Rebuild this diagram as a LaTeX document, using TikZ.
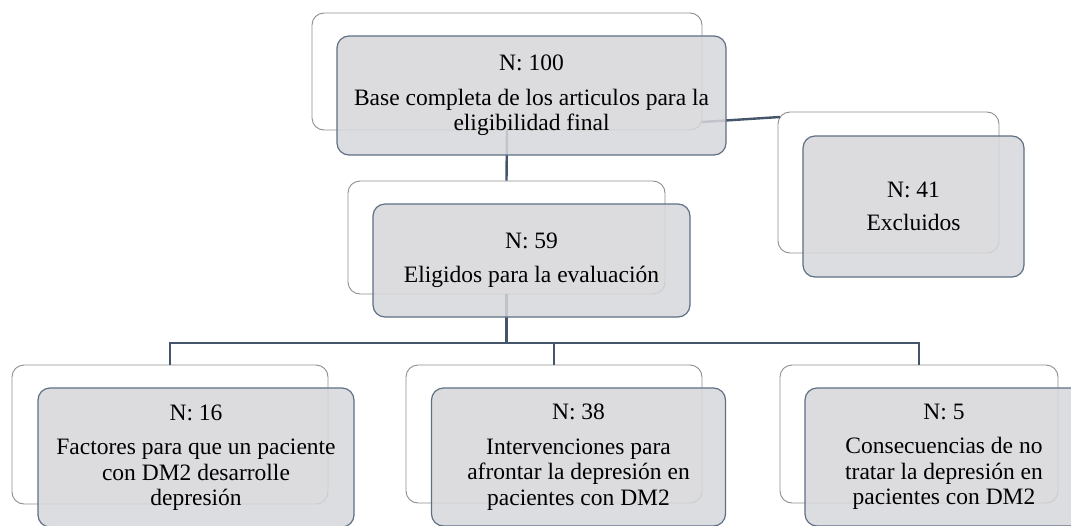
\documentclass[tikz,border=0pt]{standalone}
\usepackage{fontspec}
\setmainfont{Liberation Serif}
\usetikzlibrary{positioning}

\definecolor{Link}{HTML}{44546A}
\definecolor{Edge}{HTML}{5F6F85}
\definecolor{Shade}{HTML}{D6D7DA}
\definecolor{Back}{HTML}{8E8E8E}

\tikzset{
  backbox/.style={rectangle, rounded corners=12pt, draw=Back, line width=0.9pt, fill=white},
  frontbox/.style={rectangle, rounded corners=12pt, draw=Edge, line width=1.2pt,
    fill=Shade, fill opacity=0.85, text opacity=1, align=center, inner sep=0pt,
    font=\fontsize{23.5}{25.5}\selectfont},
  link/.style={draw=Link, line width=2.4pt}
}

\begin{document}
\begin{tikzpicture}[x=1pt, y=-1pt]

  \useasboundingbox (0,0) rectangle (1071,525);

  %%%%%%%%%% Points pour les liens %%%%%%%%%%
  \coordinate (bar) at (507,343);
  \coordinate (exA) at (702,122);
  \coordinate (exB) at (780,117);

  %%%%%%%%%% Boites arriere %%%%%%%%%%
  \node[backbox, minimum width=390pt, minimum height=117pt] (baseB) at (507,71.5) {};
  \node[backbox, minimum width=221pt, minimum height=141pt] (exclB) at (888.5,182.5) {};
  \node[backbox, minimum width=317pt, minimum height=113pt] (eligB) at (506.5,237.5) {};
  \node[backbox, minimum width=316pt, minimum height=139pt] (factB) at (170,434.5) {};
  \node[backbox, minimum width=296pt, minimum height=138pt] (intvB) at (554,434) {};
  \node[backbox, minimum width=278pt, minimum height=138pt] (consB) at (919,434) {};

  %%%%%%%%%% Liens %%%%%%%%%%
  \draw[link] (baseB.south) -- (eligB.north);
  \draw[link] (exA) -- (exB);
  \draw[link] (eligB.south) -- (eligB.south |- bar);
  \draw[link] (factB.north) |- (bar) -| (consB.north);
  \draw[link] (intvB.north) -- (intvB.north |- bar);

  %%%%%%%%%% Boites avant %%%%%%%%%%
  \node[frontbox, minimum width=389pt, minimum height=119pt] (base) at (531.5,95.5)
    {N: 100\\[9pt] Base completa de los articulos para la\\ eligibilidad final};
  \node[frontbox, minimum width=221pt, minimum height=141pt] (excl) at (913.5,206.5)
    {N: 41\\[8pt] Excluidos};
  \node[frontbox, minimum width=317pt, minimum height=113pt] (elig) at (531.5,260.5)
    {N: 59\\[9pt] Eligidos para la evaluación};
  \node[frontbox, minimum width=316pt, minimum height=139pt] (fact) at (196,457.5)
    {N: 16\\[9pt] Factores para que un paciente\\ con DM2 desarrolle\\ depresión};
  \node[frontbox, minimum width=294pt, minimum height=138pt] (intv) at (578.5,457)
    {N: 38\\[9pt] Intervenciones para\\ afrontar la depresión en\\ pacientes con DM2};
  \node[frontbox, minimum width=278pt, minimum height=138pt] (cons) at (944,457)
    {N: 5\\[9pt] Consecuencias de no\\ tratar la depresión en\\ pacientes con DM2};

\end{tikzpicture}
\end{document}
